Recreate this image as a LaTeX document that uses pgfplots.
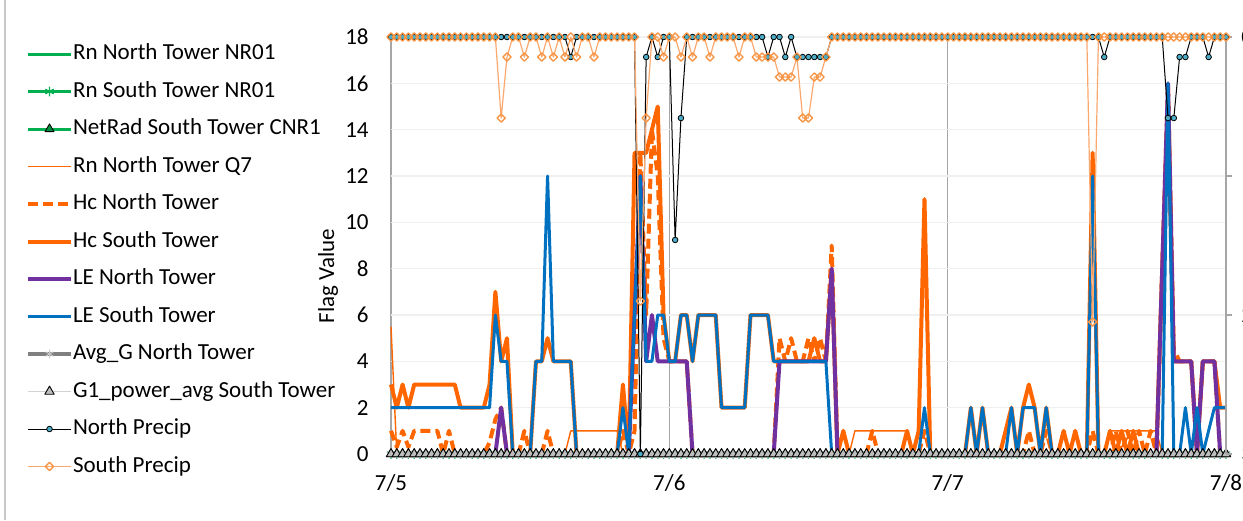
\documentclass[border=0pt]{standalone}
\usepackage{pgfplots}
\pgfplotsset{compat=1.18}
\usepackage{pgfplotstable}
\usepackage{fontspec}
\setmainfont{Carlito}
\definecolor{xgreen}{RGB}{0,176,80}
\definecolor{xdkgreen}{RGB}{0,140,60}
\definecolor{xorange}{RGB}{255,102,0}
\definecolor{xpurple}{RGB}{112,48,160}
\definecolor{xblue}{RGB}{0,112,192}
\definecolor{xgray}{RGB}{128,128,128}
\definecolor{xlgray}{RGB}{210,210,210}
\definecolor{xtri}{RGB}{190,190,190}
\definecolor{xteal}{RGB}{75,172,198}
\definecolor{xlorange}{RGB}{250,168,110}
\definecolor{xmorange}{RGB}{247,150,70}
\definecolor{xgridgray}{RGB}{166,166,166}
\definecolor{ygridgray}{RGB}{240,240,240}
\definecolor{xframe}{RGB}{200,200,200}

% i = half-hour index from 7/5 00:00 (48 per day)
\pgfplotstableread{
i LS LN HS HN Q7 NP SP z
0 2 0 3 1 5.5 0 0 0
1 2 0 2 0.3 0 0 0 0
2 2 0 3 1 0 0 0 0
3 2 0 2 0.3 0 0 0 0
4 2 0 3 1 0 0 0 0
5 2 0 3 1 0 0 0 0
6 2 0 3 1 0 0 0 0
7 2 0 3 1 0 0 0 0
8 2 0 3 1 0 0 0 0
9 2 0 3 0 0 0 0 0
10 2 0 3 1 0 0 0 0
11 2 0 3 0 0 0 0 0
12 2 0 2 0 0 0 0 0
13 2 0 2 0 0 0 0 0
14 2 0 2 0 0 0 0 0
15 2 0 2 0 0 0 0 0
16 2 0 2 0 0 0 0 0
17 2 0 3 0.5 0 0 0 0
18 6 0 7 1.5 0 0 0 0
19 4 2 4 2 0 0 0.583 0
20 4 0 5 0 0 0 0.144 0
21 0 0 0 0 0 0 0 0
22 0 0 0 0 0 0 0 0
23 0 0 0 1 0 0 0.144 0
24 0 0 0 0 0 0 0 0
25 4 0 4 0 0 0 0 0
26 4 0 4 0 0 0 0.144 0
27 12 0 5 1 0 0 0 0
28 4 0 4 0 0 0 0.144 0
29 4 0 4 0 0 0 0 0
30 4 0 4 0 0 0 0.144 0
31 4 0 4 0 1 0.144 0 0
32 0 0 0 0 1 0 0.144 0
33 0 0 0 0 1 0 0 0
34 0 0 0 0 1 0 0 0
35 0 0 0 0 1 0 0.144 0
36 0 0 0 0 1 0 0 0
37 0 0 0 0 1 0 0 0
38 0 0 0 0 1 0 0 0
39 0 0 0 0 1 0 0 0
40 2 0 3 1 0 0 0 0
41 0 0 0 0 0 0 0 0
42 6 6 13 1 0 0 0 0
43 12 12 13 13 0 3 1.9 0
44 4 4 13 6 0 0.144 0.583 0
45 4 6 14 14 0 0 0 0
46 6 4 15 12 0 0.144 0 0
47 6 4 6 5 0 0 0.144 0
48 4 4 4 4 0 0 0 0
49 4 4 4 4 0 1.46 0 0
50 6 4 6 4 0 0.583 0.144 0
51 6 4 6 4 0 0 0 0
52 4 0 4 0 0 0 0.144 0
53 6 0 6 0 0 0 0 0
54 6 0 6 0 0 0 0 0
55 6 0 6 0 0 0 0.144 0
56 6 0 6 0 0 0 0 0
57 2 0 2 0 0 0 0 0
58 2 0 2 0 0 0 0 0
59 2 0 2 0 0 0 0 0
60 2 0 2 0 0 0 0.144 0
61 2 0 2 0 0 0 0 0
62 6 0 6 0 0 0 0 0
63 6 0 6 0 0 0 0.144 0
64 6 0 6 0 0 0 0.144 0
65 6 0 6 0 0 0.144 0.144 0
66 4 0 4 0 0 0 0.144 0
67 4 4 4 5 0 0 0.288 0
68 4 4 4 4 0 0.144 0.288 0
69 4 4 4 5 0 0 0.288 0
70 4 4 4 4 0 0.144 0.144 0
71 4 4 4 4 0 0.144 0.583 0
72 4 4 4 5 0 0.144 0.583 0
73 4 4 5 4 0 0.144 0.288 0
74 4 4 4 5 0 0.144 0.288 0
75 4 4 4 4 0 0.144 0.144 0
76 0 8 8 9 0 0 0 0
77 0 0 0 0 0 0 0 0
78 0 0 1 0 0 0 0 0
79 0 0 0 0 0 0 0 0
80 0 0 0 0 1 0 0 0
81 0 0 0 0 1 0 0 0
82 0 0 0 0 1 0 0 0
83 0 0 0 1 1 0 0 0
84 0 0 0 0 1 0 0 0
85 0 0 0 0 1 0 0 0
86 0 0 0 0 1 0 0 0
87 0 0 0 0 1 0 0 0
88 0 0 0 0 1 0 0 0
89 0 0 1 0 1 0 0 0
90 0 0 0 0 0 0 0 0
91 0 0 1 0 0 0 0 0
92 2 0 11 1 0 0 0 0
93 0 0 0 0 0 0 0 0
94 0 0 0 0 0 0 0 0
95 0 0 0 0 0 0 0 0
96 0 0 0 0 0 0 0 0
97 0 0 0 0 0 0 0 0
98 0 0 0 0 0 0 0 0
99 0 0 0 0 0 0 0 0
100 2 0 2 0 0 0 0 0
101 0 0 0 0 0 0 0 0
102 2 0 2 0 0 0 0 0
103 0 0 0 0 0 0 0 0
104 0 0 0 0 0 0 0 0
105 0 0 0 0 0 0 0 0
106 0 0 1 0 0 0 0 0
107 2 0 2 0 0 0 0 0
108 0 0 0 0 0 0 0 0
109 2 0 2 0 0 0 0 0
110 2 0 3 1 0 0 0 0
111 2 0 2 0 0 0 0 0
112 0 0 0 0 0 0 0 0
113 2 0 2 1 0 0 0 0
114 0 0 0 0 0 0 0 0
115 0 0 0 0 0 0 0 0
116 0 0 1 0 0 0 0 0
117 0 0 0 0 0 0 0 0
118 0 0 1 0 0 0 0 0
119 0 0 0 0 0 0 0 0
120 0 0 0 0 0 0 0 0
121 12 0 13 1 0 0 2.05 0
122 0 0 0 0 0 0 0 0
123 0 0 0 0 0 0.144 0 0
124 0 0 1 0 1 0 0 0
125 0 0 0 1 1 0 0 0
126 0 0 1 0 1 0 0 0
127 0 0 0 1 1 0 0 0
128 0 0 1 0 1 0 0 0
129 0 0 0 1 1 0 0 0
130 0 0 0 0 1 0 0 0
131 0 0 0 1 1 0 0 0
132 0 0 0 0 1 0 0 0
133 0 8 8 8 0 0 0 0
134 16 16 15 16 0 0.583 0 0
135 0 4 4 4.5 0 0.583 0 0
136 0 4 4 4 0 0.144 0 0
137 2 4 4 4 0 0.144 0 0
138 0 4 4 4 0 0 0 0
139 2 0 0 0 0 0 0 0
140 0 4 4 4 0 0 0 0
141 1 4 4 4 0 0.144 0 0
142 2 4 4 4 0 0 0 0
143 2 0 2 0 0 0 0 0
144 2 0 2 0 0 0 0 0
}\data

\newcommand{\fs}{\fontsize{11.5}{13.8}\selectfont}

\begin{document}
\begin{tikzpicture}
\useasboundingbox (0,0) rectangle (621.5pt,-260pt);
\draw[xframe, line width=0.7pt] (2.5pt,0pt) -- (2.5pt,-260pt);
\begin{axis}[
  at={(195.5pt,-227pt)}, anchor=south west,
  scale only axis, width=417.5pt, height=208.5pt,
  xmin=0, xmax=144, ymin=0, ymax=18,
  xtick={0,48,96,144}, xticklabels={7/5,7/6,7/7,7/8},
  ytick={0,2,...,18},
  major tick length=0pt,
  axis x line*=bottom, axis y line*=left,
  x axis line style={draw=xgridgray, line width=0.6pt},
  y axis line style={draw=none},
  xmajorgrids, ymajorgrids,
  major x grid style={draw=xgridgray, line width=0.6pt},
  major y grid style={draw=ygridgray, line width=0.8pt},
  /pgf/number format/assume math mode=true,
  tick label style={font=\fs},
  xticklabel style={inner sep=0pt, anchor=north, yshift=-10pt},
  yticklabel style={inner sep=0pt, anchor=east, xshift=-11pt},
  ylabel={Flag Value},
  ylabel style={font=\fs, at={(axis description cs:-0.0754,0.427)}, anchor=center},
  clip=false,
  every axis plot/.append style={line join=round},
  legend image code/.code={\draw[mark repeat=2,mark phase=2,#1] plot coordinates {(0pt,0pt) (10.75pt,0pt) (21.5pt,0pt)};},
  legend cell align=left,
  legend style={at={(axis description cs:-0.4371,0.9844)}, anchor=north west,
    draw=none, fill=none, inner sep=0pt, outer sep=0pt, font=\fs,
    row sep=8.25pt, column sep=0pt,
    nodes={inner sep=0pt, text height=8pt, text depth=2.5pt}},
]
\addplot[xgreen, line width=1.5pt] table[x=i,y=z]{\data};
\addlegendentry{Rn North Tower NR01}
\addplot[xgreen, line width=1.5pt, mark=asterisk, mark size=2.4pt, mark options={draw=xgreen, line width=0.6pt}] table[x=i,y=z]{\data};
\addlegendentry{Rn South Tower NR01}
\addplot[xgreen, line width=1.5pt, mark=triangle*, mark size=2.6pt, mark options={fill=xdkgreen, draw=black, line width=0.4pt}] table[x=i,y=z]{\data};
\addlegendentry{NetRad South Tower CNR1}
\addplot[xorange, line width=0.7pt] table[x=i,y=Q7]{\data};
\addlegendentry{Rn North Tower Q7}
\addplot[xorange, line width=2pt, dash pattern=on 5pt off 2.5pt] table[x=i,y=HN]{\data};
\addlegendentry{Hc North Tower}
\addplot[xorange, line width=2pt] table[x=i,y=HS]{\data};
\addlegendentry{Hc South Tower}
\addplot[xpurple, line width=2pt] table[x=i,y=LN]{\data};
\addlegendentry{LE North Tower}
\addplot[xblue, line width=1.5pt] table[x=i,y=LS]{\data};
\addlegendentry{LE South Tower}
\addplot[xgray, line width=2pt, mark=asterisk, mark size=2.2pt, mark options={draw=gray!45, line width=0.5pt}] table[x=i,y=z]{\data};
\addlegendentry{Avg\_G North Tower}
\addplot[xlgray, line width=0.6pt, mark=triangle*, mark size=2.7pt, mark options={fill=xtri, draw=black, line width=0.45pt}] table[x=i,y=z]{\data};
\addlegendentry{G1\_power\_avg South Tower}
\addlegendimage{black, line width=0.5pt, mark=*, mark size=1.4pt, mark options={fill=xteal, draw=black, line width=0.4pt}}
\addlegendentry{North Precip}
\addlegendimage{xlorange, line width=0.6pt, mark=square, mark size=1.45pt, mark options={rotate=45, draw=xmorange, line width=0.7pt}}
\addlegendentry{South Precip}
\end{axis}
\begin{axis}[
  at={(195.5pt,-227pt)}, anchor=south west,
  scale only axis, width=417.5pt, height=208.5pt,
  xmin=0, xmax=144, ymin=0, ymax=3, y dir=reverse,
  axis x line=none, axis y line*=right,
  ytick={0,1,2,3},
  tick align=outside, major tick length=3pt,
  y axis line style={draw=xgridgray, line width=0.6pt},
  every tick/.style={draw=xgridgray, line width=0.6pt},
  /pgf/number format/assume math mode=true,
  tick label style={font=\fs},
  yticklabel style={inner sep=0pt, anchor=west, xshift=4.5pt},
  clip=false,
  every axis plot/.append style={line join=round},
]
\addplot[black, line width=0.5pt, mark=*, mark size=1.4pt, mark options={fill=xteal, draw=black, line width=0.4pt}] table[x=i,y=NP]{\data};
\addplot[xlorange, line width=0.6pt, mark=square, mark size=1.45pt, mark options={rotate=45, draw=xmorange, line width=0.7pt}] table[x=i,y=SP]{\data};
\end{axis}
\end{tikzpicture}
\end{document}
